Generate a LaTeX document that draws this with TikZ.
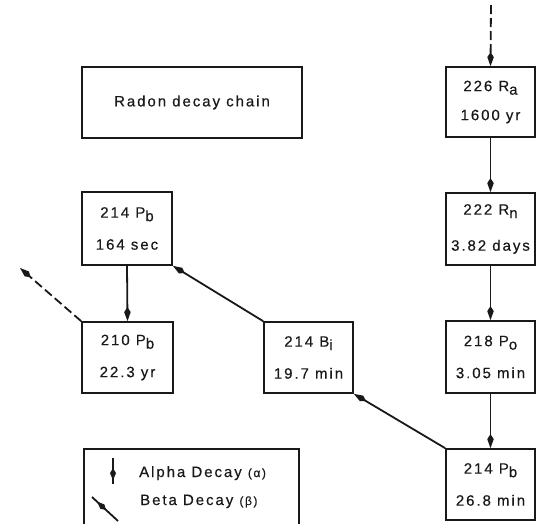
\documentclass[tikz,border=0pt]{standalone}
\usepackage{fontspec}
\newfontfamily\diag{Liberation Sans}[LetterSpace=13,FakeBold=0.4]
\usetikzlibrary{arrows.meta,decorations.markings}
\newcommand\sbs[1]{\raisebox{-3.5pt}{#1}}
\tikzset{
  box/.style={draw=black!90, line width=1.7pt, minimum width=90pt, minimum height=72pt,
    inner sep=0pt, align=center, text=black!90, font=\diag\fontsize{15}{32}\selectfont},
  decayline/.style={draw=black!90, line width=1.8pt, -{Kite[length=14pt,width=6.5pt,inset=5pt]}},
  dashline/.style={decayline, dash pattern=on 9pt off 4pt},
  midtip/.style={draw=black!90, line width=1.8pt, postaction={decorate},
    decoration={markings, mark=at position #1 with {\arrow{Kite[length=12pt,width=6pt,inset=5pt]}}}},
  legtext/.style={anchor=base west, inner sep=0pt, text=black!90, font=\diag\fontsize{15}{16}\selectfont}
}
\begin{document}
\begin{tikzpicture}[x=1pt,y=-1pt]
\useasboundingbox (0,0) rectangle (536,523);
\fill[white] (0,0) rectangle (536,523);

\node[box, minimum width=220pt, minimum height=71pt] (title) at (192,102.5) {Radon decay chain};

\node[box, minimum width=89pt, minimum height=70pt, font=\diag\fontsize{15}{29}\selectfont] (ra) at (490.5,102) {226 R\sbs{a}\\1600 yr};
\node[box, minimum width=89pt, font=\diag\fontsize{15}{36}\selectfont] (rn) at (490.5,229) {222 R\sbs{n}\\3.82 days};
\node[box, minimum width=89pt] (po) at (490.5,357) {218 P\sbs{o}\\3.05 min};
\node[box, minimum width=89pt, minimum height=71pt] (pbb) at (490.5,484.5) {214 P\sbs{b}\\26.8 min};

\node[box, minimum height=73pt] (pbt) at (127,228.5) {214 P\sbs{b}\\164 sec};
\node[box, minimum width=91pt, minimum height=71pt] (pbl) at (127.5,357.5) {210 P\sbs{b}\\22.3 yr};
\node[box, minimum width=89pt, minimum height=71pt] (bi) at (308.5,357.5) {214 B\sbs{i}\\19.7 min};

\coordinate (src) at (491,5);
\coordinate (out) at (20,268);

% alpha decays
\draw[dashline] (src) -- (ra.north);
\draw[decayline] (ra.south) -- (rn.north);
\draw[decayline] (rn.south) -- (po.north);
\draw[decayline] (po.south) -- (pbb.north);
\draw[decayline] (pbt.south) -- (pbl.north);

% beta decays
\draw[decayline] (pbb.north west) -- (bi.south east);
\draw[decayline] (bi.north west) -- (pbt.south east);
\draw[dashline] (pbl.north west) -- (out);

% legend
\draw[draw=black!90, line width=1.7pt] (84,530) -- (84,449) -- (299,449) -- (299,530);
\coordinate (la1) at (113,458);
\coordinate (la2) at (113,484);
\coordinate (lb1) at (118,521);
\coordinate (lb2) at (92,497);
\draw[midtip=0.85] (la1) -- (la2);
\draw[midtip=0.8] (lb1) -- (lb2);
\node[legtext] (ltA) at (139,477) {Alpha Decay {\fontsize{12}{14}\selectfont(α)}};
\node[legtext] (ltB) at (140,505) {Beta Decay {\fontsize{12}{14}\selectfont(β)}};
\end{tikzpicture}
\end{document}
